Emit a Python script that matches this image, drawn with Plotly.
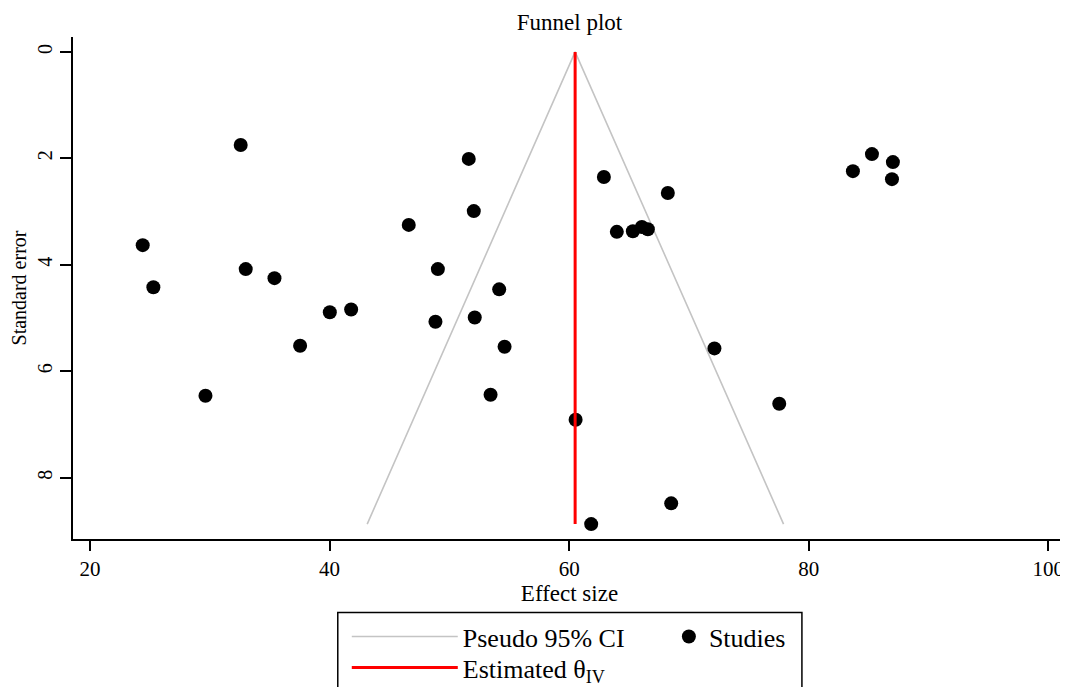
import plotly.graph_objects as go

# Study effect sizes and standard errors
effect = [24.40, 25.29, 29.64, 32.58, 33.00, 35.40, 37.54, 40.02, 41.80, 46.61,
          49.04, 48.84, 51.62, 52.04, 52.12, 53.44, 54.16, 54.61, 60.54, 61.84,
          62.90, 63.98, 65.32, 66.07, 66.57, 68.24, 68.52, 72.13, 77.54, 83.69,
          85.28, 87.03, 86.95]
std_err = [3.63, 4.42, 6.46, 1.75, 4.08, 4.25, 5.52, 4.89, 4.84, 3.25,
           4.08, 5.07, 2.01, 2.99, 4.99, 6.44, 4.46, 5.54, 6.91, 8.87,
           2.35, 3.38, 3.37, 3.29, 3.33, 2.65, 8.48, 5.57, 6.61, 2.24,
           1.92, 2.07, 2.39]

# Pseudo 95% CI funnel and pooled estimate
ci_x = [43.14, 60.50, 77.90]
ci_y = [8.87, 0.0, 8.87]
theta_x = [60.50, 60.50]
theta_y = [0.0, 8.87]

x_ticks = [20, 40, 60, 80, 100]
y_ticks = [0, 2, 4, 6, 8]

FONT = "Liberation Serif, Times New Roman, serif"

# page body has an 8px margin, so the figure is sized to the remaining window
W, H = 1060, 679
ML, MR, MT, MB = 65.3, 2, 28.7, 147.7
PW = W - ML - MR
PH = H - MT - MB


def px_x(screen_x):
    return (screen_x - 8 - ML) / PW


def px_y(screen_y):
    return (H - MB - (screen_y - 8)) / PH


fig = go.Figure()
fig.add_trace(go.Scatter(x=ci_x, y=ci_y, mode="lines", name="Pseudo 95% CI",
                         line=dict(color="#c4c4c4", width=1.6), hoverinfo="skip",
                         legend="legend"))
fig.add_trace(go.Scatter(x=effect, y=std_err, mode="markers", name="Studies",
                         marker=dict(color="black", size=14, line=dict(width=0)),
                         legend="legend2"))
fig.add_trace(go.Scatter(x=theta_x, y=theta_y, mode="lines",
                         name="Estimated θ<sub>IV</sub>",
                         line=dict(color="#ff0000", width=3), legend="legend3"))

legend_common = dict(orientation="h", xanchor="left", yanchor="middle",
                     borderwidth=0, bgcolor="rgba(0,0,0,0)",
                     font=dict(family=FONT, size=26, color="black"),
                     traceorder="normal", tracegroupgap=0)

fig.update_layout(
    width=W, height=H,
    paper_bgcolor="white", plot_bgcolor="white",
    margin=dict(l=ML, r=MR, t=MT, b=MB, autoexpand=False),
    font=dict(family=FONT, color="black", size=20),
    title=dict(text="Funnel plot", xref="paper", x=0.5, xanchor="center",
               y=1 - 14 / H, yanchor="middle",
               font=dict(family=FONT, size=23, color="black")),
    showlegend=True,
    legend=dict(x=px_x(347), y=px_y(637), itemwidth=106, **legend_common),
    legend2=dict(x=px_x(669), y=px_y(637), itemwidth=30, **legend_common),
    legend3=dict(x=px_x(347), y=px_y(668), itemwidth=106, **legend_common),
    shapes=[dict(type="rect", xref="paper", yref="paper",
                 x0=px_x(338), x1=px_x(802), y0=px_y(613), y1=px_y(720),
                 line=dict(color="black", width=1.5), fillcolor="rgba(0,0,0,0)",
                 layer="above")],
)
fig.update_xaxes(range=[18.58, 101.48], tickvals=x_ticks, ticks="outside", ticklen=10,
                 tickwidth=2, tickcolor="black", showline=True, linecolor="black",
                 linewidth=2, showgrid=False, zeroline=False, automargin=False,
                 tickfont=dict(family=FONT, size=21),
                 title=dict(text="Effect size", standoff=0,
                            font=dict(family=FONT, size=23)))
fig.update_yaxes(range=[9.15, -0.28], tickvals=y_ticks, ticks="outside", ticklen=11,
                 tickwidth=2, tickcolor="black", showline=True, linecolor="black",
                 linewidth=2, showgrid=False, zeroline=False, tickangle=-90,
                 automargin=False,
                 tickfont=dict(family=FONT, size=20),
                 title=dict(text="Standard error", standoff=4,
                            font=dict(family=FONT, size=20)))

fig.write_html("out.html")
